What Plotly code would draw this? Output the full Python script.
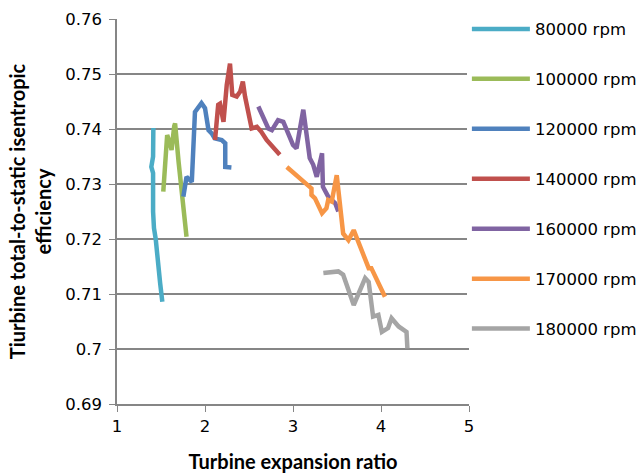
import plotly.graph_objects as go

names = ["80000 rpm", "100000 rpm", "120000 rpm", "140000 rpm", "160000 rpm", "170000 rpm", "180000 rpm"]
colors = ["#4BACC6", "#9BBB59", "#4F81BD", "#C0504D", "#8064A2", "#F79646", "#A5A5A5"]

x80 = [1.413, 1.41, 1.39, 1.41, 1.41, 1.42, 1.44, 1.47, 1.49, 1.515]
y80 = [0.7402, 0.735, 0.7331, 0.732, 0.725, 0.722, 0.720, 0.714, 0.712, 0.7086]

x100 = [1.526, 1.57, 1.60, 1.62, 1.65, 1.66, 1.70, 1.79]
y100 = [0.7286, 0.7389, 0.7375, 0.7362, 0.7405, 0.741, 0.734, 0.7204]

x120 = [1.754, 1.79, 1.85, 1.886, 1.96, 2.0, 2.04, 2.076, 2.11, 2.19, 2.23, 2.23, 2.30]
y120 = [0.7277, 0.7313, 0.7304, 0.7431, 0.7447, 0.7438, 0.7398, 0.7392, 0.7383, 0.738, 0.7374, 0.7331, 0.733]

x140 = [2.114, 2.15, 2.17, 2.21, 2.247, 2.284, 2.31, 2.36, 2.40, 2.43, 2.455, 2.53, 2.59, 2.64, 2.70, 2.85]
y140 = [0.738, 0.7444, 0.7446, 0.7413, 0.748, 0.7519, 0.7462, 0.7459, 0.7468, 0.7486, 0.7459, 0.7401, 0.7404, 0.7395, 0.738, 0.7353]

x160 = [2.606, 2.72, 2.76, 2.83, 2.89, 3.0, 3.04, 3.117, 3.19, 3.23, 3.27, 3.33, 3.34, 3.40, 3.48, 3.515]
y160 = [0.7441, 0.7401, 0.7398, 0.7416, 0.7413, 0.7371, 0.7365, 0.7435, 0.7347, 0.7335, 0.7313, 0.7356, 0.7295, 0.7277, 0.7265, 0.725]

x170 = [2.93, 3.17, 3.21, 3.21, 3.25, 3.33, 3.38, 3.40, 3.44, 3.497, 3.53, 3.57, 3.63, 3.69, 3.86, 3.89, 4.045]
y170 = [0.7331, 0.7298, 0.7292, 0.728, 0.7274, 0.7247, 0.7256, 0.7271, 0.7268, 0.7316, 0.7265, 0.721, 0.7198, 0.7216, 0.7147, 0.7147, 0.7095]

x180 = [3.345, 3.515, 3.57, 3.69, 3.82, 3.86, 3.91, 3.97, 4.01, 4.08, 4.12, 4.20, 4.29, 4.30]
y180 = [0.7138, 0.7141, 0.7135, 0.708, 0.7129, 0.7122, 0.7059, 0.7062, 0.7031, 0.7038, 0.7056, 0.7041, 0.7031, 0.7001]

xs = [x80, x100, x120, x140, x160, x170, x180]
ys = [y80, y100, y120, y140, y160, y170, y180]

fig = go.Figure()
for n, c, xx, yy in zip(names, colors, xs, ys):
    fig.add_trace(go.Scatter(x=xx, y=yy, mode="lines", name=n, legendgroup=n,
                             line=dict(color=c, width=4.5)))

tickfont = dict(family="DejaVu Sans", size=16.5, color="black")
titlefont = dict(family="Lato", size=20, color="black")
fig.update_layout(
    width=641, height=476,
    margin=dict(l=117, r=172, t=19, b=72, autoexpand=False),
    plot_bgcolor="white", paper_bgcolor="white",
    font=tickfont,
    legend=dict(x=0.994, y=1.019, xanchor="left", yanchor="top",
                tracegroupgap=25.5, font=tickfont, itemwidth=58, maxheight=470),
    xaxis=dict(range=[1, 5], dtick=1, showgrid=False, showline=True,
               linecolor="#868686", linewidth=1.5, ticks="outside", ticklen=6,
               tickcolor="#868686", zeroline=False, tickfont=tickfont,
               title=dict(text="<b>Turbine expansion ratio</b>", font=titlefont, standoff=20)),
    yaxis=dict(range=[0.69, 0.76], dtick=0.01, tickformat="~r", showgrid=True,
               gridcolor="#868686", gridwidth=1.5, showline=True,
               linecolor="#868686", linewidth=1.5, ticks="outside", ticklen=6,
               tickcolor="#868686", zeroline=False, tickfont=tickfont,
               ticklabelstandoff=4,
               title=dict(text="<b>Tiurbine total-to-static isentropic<br>efficiency</b>",
                          font=titlefont, standoff=8)),
)
fig.write_html("out.html")
